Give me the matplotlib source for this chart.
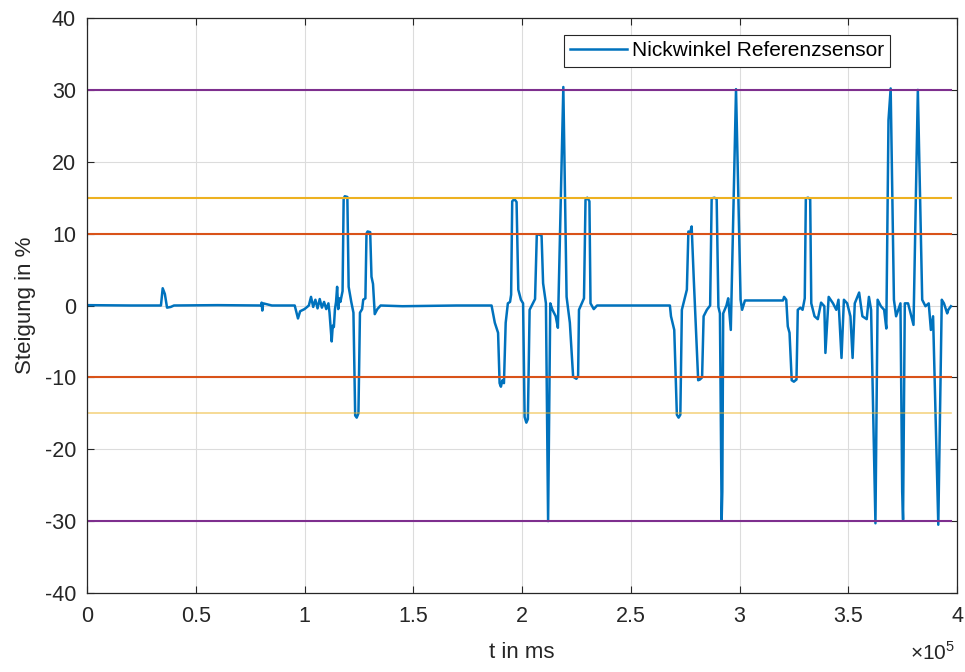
import numpy as np
import matplotlib
matplotlib.use('Agg')
import matplotlib.pyplot as plt
from matplotlib.ticker import FuncFormatter

plt.rcParams['font.family'] = ['Liberation Sans', 'DejaVu Sans']
plt.rcParams['mathtext.fontset'] = 'custom'
plt.rcParams['mathtext.rm'] = 'Liberation Sans'
plt.rcParams['axes.unicode_minus'] = False

# pitch angle of the reference sensor, t in units of 1e5 ms, angle in %
t_e5 = [0.0, 0.20, 0.340, 0.348, 0.358, 0.368, 0.385, 0.40, 0.60, 0.80, 0.803, 0.806, 0.810, 0.85,
        0.955, 0.97, 0.98, 1.00, 1.02, 1.03, 1.04, 1.05, 1.06, 1.07, 1.08, 1.09, 1.10, 1.11, 1.115,
        1.125, 1.13, 1.135, 1.14, 1.145, 1.15, 1.155, 1.16, 1.165, 1.175, 1.18, 1.185, 1.197, 1.203,
        1.215, 1.225, 1.233, 1.24, 1.248, 1.255, 1.265, 1.27, 1.28, 1.285, 1.29, 1.302, 1.308, 1.315,
        1.323, 1.335, 1.35, 1.45, 1.70,
        1.86, 1.875, 1.89, 1.897, 1.903, 1.91, 1.917, 1.925, 1.935, 1.945, 1.95, 1.955, 1.965, 1.975,
        1.983, 1.995, 2.005, 2.012, 2.02, 2.027, 2.035, 2.05, 2.06, 2.068, 2.078, 2.09, 2.097, 2.11,
        2.12, 2.13, 2.14, 2.155, 2.165, 2.19, 2.205, 2.22, 2.235, 2.25, 2.258, 2.262, 2.275, 2.285,
        2.292, 2.30, 2.31, 2.315, 2.33, 2.345, 2.50,
        2.68, 2.685, 2.70, 2.712, 2.72, 2.728, 2.735, 2.75, 2.758, 2.765, 2.772, 2.78, 2.79, 2.80,
        2.81, 2.818, 2.828, 2.835, 2.85, 2.865, 2.872, 2.885, 2.895, 2.903, 2.91, 2.918, 2.921, 2.925,
        2.94, 2.948, 2.955, 2.96, 2.984, 3.005, 3.012, 3.025, 3.10, 3.20, 3.205, 3.215,
        3.222, 3.23, 3.24, 3.25, 3.262, 3.268, 3.28, 3.29, 3.30, 3.305, 3.315, 3.325, 3.33, 3.345,
        3.36, 3.375, 3.39, 3.395, 3.41, 3.43, 3.445, 3.455, 3.469, 3.48, 3.495, 3.51, 3.52, 3.53,
        3.55, 3.565, 3.585, 3.595, 3.605, 3.625, 3.635, 3.65, 3.665, 3.675, 3.685, 3.695, 3.71, 3.72,
        3.74, 3.748, 3.752, 3.76, 3.775, 3.79, 3.80, 3.82, 3.84, 3.855, 3.87, 3.88, 3.89, 3.914,
        3.93, 3.94, 3.955, 3.96, 3.972]
pitch = [0.05, 0.0, 0.0, 2.4, 1.6, -0.3, -0.2, 0.0, 0.05, 0.0, 0.4, -0.7, 0.3, 0.0,
         0.0, -1.8, -0.8, -0.5, 0.0, 1.2, -0.2, 0.8, -0.4, 0.9, -0.3, 0.5, -0.5, 0.3, -1.0,
         -5.0, -2.8, -3.0, -0.5, 0.5, 2.6, -0.5, 1.0, 0.5, 2.0, 14.8, 15.2, 15.1, 2.6,
         0.5, -1.0, -15.3, -15.6, -15.0, -1.0, -0.5, 0.8, 1.0, 10.0, 10.3, 10.2, 4.0, 3.0,
         -1.2, -0.5, 0.0, -0.1, 0.0,
         0.0, -2.4, -3.8, -10.8, -11.3, -10.4, -10.8, -2.4, 0.3, 0.5, 1.5, 14.5, 14.8, 14.4,
         2.2, 0.8, 0.3, -15.5, -16.3, -15.8, -0.6, 0.3, 0.9, 9.8, 9.9, 9.7, 3.1, 0.3,
         -30.0, 0.3, -0.6, -1.5, -3.1, 30.4, 1.2, -2.4, -9.9, -10.2, -9.8, -0.6, 0.3, 1.0,
         14.7, 15.0, 14.5, 0.3, -0.5, 0.0, 0.0,
         0.0, -1.5, -3.4, -15.2, -15.6, -15.2, -0.6, 1.2, 2.2, 10.3, 10.0, 11.0, 3.5, -3.4,
         -10.4, -10.3, -10.0, -1.5, -0.6, 0.0, 14.9, 15.0, 14.8, -0.2, -1.1, -29.8, -25.9, -1.1,
         0.0, 1.0, -1.5, -3.4, 30.1, 0.8, -0.6, 0.7, 0.7, 0.7, 1.2, 0.8,
         -2.9, -3.8, -10.4, -10.6, -10.3, -0.6, -0.3, -0.6, 1.0, 14.9, 15.0, 14.8, 0.3, -1.5,
         -1.9, 0.4, -0.1, -6.6, 1.2, 0.3, -0.6, 0.8, -7.3, 0.8, 0.3, -1.5, -7.3, 0.3,
         1.8, -1.5, -1.9, 1.2, -0.6, -30.3, 0.8, -0.1, -0.6, -3.2, 25.8, 30.2, 0.8, -1.5,
         0.3, -25.9, -29.8, 0.3, 0.3, -1.5, -2.7, 30.0, 0.8, -0.1, 0.3, -3.4, -1.5, -30.5,
         0.8, 0.3, -1.1, -0.6, -0.1]

t = np.array(t_e5) * 1e5

# limit lines
limits = [30, 15, 10, -10, -15, -30]
limit_colors = ['#7E2F8E', '#EDB120', '#D95319', '#D95319', '#EDB120', '#7E2F8E']
limit_alpha = [1, 1, 1, 1, 0.55, 1]
limit_width = [1.5, 1.5, 1.5, 1.5, 1.2, 1.5]

fig = plt.figure(figsize=(9.65, 6.72), dpi=100)
ax = fig.add_axes([87/965, 79/672, 870/965, 575/672])

ax.plot(t, pitch, color='#0072BD', lw=1.8, label='Nickwinkel Referenzsensor')
for v, c, a, w in zip(limits, limit_colors, limit_alpha, limit_width):
    ax.plot([t[0], t[-1]], [v, v], color=c, alpha=a, lw=w)

ax.set_xlim(0, 4e5)
ax.set_ylim(-40, 40)
ax.set_xticks(np.arange(0, 4.01e5, 0.5e5))
ax.set_yticks(np.arange(-40, 41, 10))
ax.xaxis.set_major_formatter(FuncFormatter(lambda x, p: '%g' % (x / 1e5)))
ax.grid(True, color='#dcdcdc', lw=0.8)
ax.set_axisbelow(True)
ax.tick_params(direction='in', length=5, width=0.8, top=True, right=True,
               labelsize=15.5, colors='#262626')
ax.tick_params(axis='x', pad=9)
ax.tick_params(axis='y', pad=8)
for s in ax.spines.values():
    s.set_color('#262626')
    s.set_linewidth(0.9)

ax.set_xlabel('t in ms', fontsize=16, color='#262626', labelpad=11)
ax.set_ylabel('Steigung in %', fontsize=16, color='#262626', labelpad=6)
fig.text(955/965, 12/672, r'$\times10^{5}$', ha='right', va='baseline',
         fontsize=15, color='#262626')

leg = ax.legend(loc='upper right', bbox_to_anchor=(0.923, 0.970), borderaxespad=0,
                fontsize=15, handlelength=2.75, handletextpad=0.2, borderpad=0.3,
                fancybox=False, framealpha=1, edgecolor='#262626')
leg.get_frame().set_linewidth(0.8)

fig.savefig('out.png', dpi=100)
